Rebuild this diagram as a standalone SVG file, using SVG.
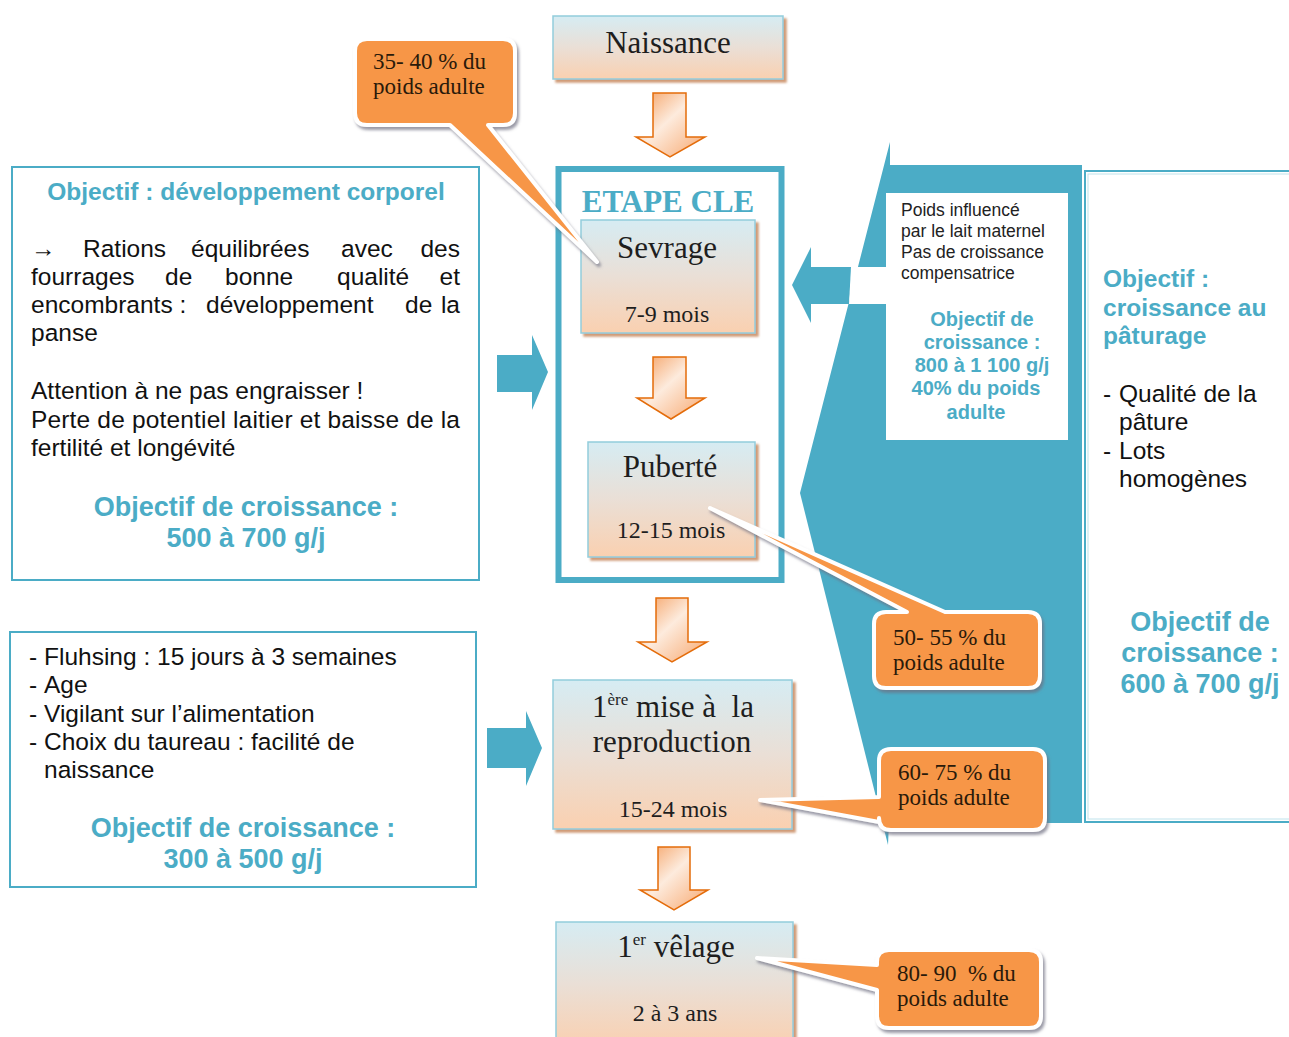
<svg xmlns="http://www.w3.org/2000/svg" width="1289" height="1037" viewBox="0 0 1289 1037">
<defs>
<linearGradient id="boxGrad" x1="0" y1="0" x2="0" y2="1">
<stop offset="0" stop-color="#D6ECF3"/>
<stop offset="0.5" stop-color="#EADFD6"/>
<stop offset="1" stop-color="#FAD0B0"/>
</linearGradient>
<linearGradient id="arrGrad" x1="0" y1="0" x2="1" y2="1">
<stop offset="0" stop-color="#F49A58"/>
<stop offset="0.45" stop-color="#FDEBDD"/>
<stop offset="1" stop-color="#F7A66C"/>
</linearGradient>
<filter id="boxShadow" x="-10%" y="-10%" width="130%" height="130%">
<feDropShadow dx="3" dy="3" stdDeviation="0.8" flood-color="#C88A5E" flood-opacity="0.85"/>
</filter>
<filter id="calloutShadow" x="-20%" y="-20%" width="140%" height="140%">
<feDropShadow dx="2" dy="3" stdDeviation="1.5" flood-color="#6E6E80" flood-opacity="0.7"/>
</filter>
<style>
.stage{fill:url(#boxGrad);stroke:#92CDDC;stroke-width:1.5;filter:url(#boxShadow)}
.ttl{font-family:"Liberation Serif",serif;font-size:31px;fill:#1e1e1e;text-anchor:middle}
.sub{font-family:"Liberation Serif",serif;font-size:24px;fill:#1e1e1e;text-anchor:middle}
.callout{fill:#F79646;stroke:#ffffff;stroke-width:4;stroke-linejoin:round;filter:url(#calloutShadow)}
.ct{font-family:"Liberation Serif",serif;font-size:23px;fill:#2a1a0a}
.obox{fill:#ffffff;stroke:#4BACC6;stroke-width:2}
.body{font-family:"Liberation Sans",Arial,sans-serif;font-size:24.5px;fill:#111}
.bt{font-family:"Liberation Sans",Arial,sans-serif;font-weight:bold;fill:#4BACC6}
.small{font-family:"Liberation Sans",Arial,sans-serif;font-size:17.5px;fill:#222}
.oarr{fill:url(#arrGrad);stroke:#E46C0A;stroke-width:1.5;stroke-linejoin:miter}
.barr{fill:#4BACC6}
</style>
</defs>
<rect width="1289" height="1037" fill="#ffffff"/>

<!-- Right blue callout shape -->
<g id="pasture-arrow">
<polygon fill="#4BACC6" points="890,142 890,165 1082,165 1082,823 889,823 888,845 800,493"/>
<path fill="#4BACC6" d="M853,267 H811 V247 L792,285 L811,323 V304 H849 Z"/>
<polygon fill="#ffffff" points="851,267 887,267 887,304 849,304"/>
</g>

<g id="pasture-info">
<rect x="886" y="193" width="182" height="247" fill="#ffffff"/>
<text class="small"><tspan x="901" y="216">Poids influencé</tspan><tspan x="901" y="237">par le lait maternel</tspan><tspan x="901" y="258">Pas de croissance</tspan><tspan x="901" y="279">compensatrice</tspan></text>
<text class="bt" font-size="20" text-anchor="middle"><tspan x="982" y="326">Objectif de</tspan><tspan x="982" y="349">croissance :</tspan><tspan x="982" y="372">800 à 1 100 g/j</tspan><tspan x="976" y="395">40% du poids</tspan><tspan x="976" y="419">adulte</tspan></text>
</g>

<g id="pasture-box">
<rect class="obox" x="1085" y="171" width="220" height="651"/>
<rect x="1088" y="174" width="214" height="645" fill="none" stroke="#BFE3EC" stroke-width="1"/>
<text class="bt" font-size="24.5"><tspan x="1103" y="287">Objectif :</tspan><tspan x="1103" y="316">croissance au</tspan><tspan x="1103" y="344">pâturage</tspan></text>
<text class="body"><tspan x="1103" y="402">-</tspan><tspan x="1119" y="402">Qualité de la</tspan><tspan x="1119" y="430">pâture</tspan><tspan x="1103" y="459">-</tspan><tspan x="1119" y="459">Lots</tspan><tspan x="1119" y="487">homogènes</tspan></text>
<text class="bt" font-size="27" text-anchor="middle"><tspan x="1200" y="631">Objectif de</tspan><tspan x="1200" y="662">croissance :</tspan><tspan x="1200" y="693">600 à 700 g/j</tspan></text>
</g>

<!-- Left boxes -->
<g id="objective-body">
<rect class="obox" x="12" y="167" width="467" height="413"/>
<text class="bt" font-size="24.5" x="246" y="200" text-anchor="middle">Objectif : développement corporel</text>
<g class="body">
<text x="31" y="257">→</text><text x="83" y="257">Rations</text><text x="191" y="257">équilibrées</text><text x="341" y="257">avec</text><text x="460" y="257" text-anchor="end">des</text>
<text x="31" y="285">fourrages</text><text x="165" y="285">de</text><text x="225" y="285">bonne</text><text x="337" y="285">qualité</text><text x="460" y="285" text-anchor="end">et</text>
<text x="31" y="313">encombrants :</text><text x="206" y="313">développement</text><text x="405" y="313">de</text><text x="460" y="313" text-anchor="end">la</text>
<text x="31" y="341">panse</text>
<text x="31" y="399">Attention à ne pas engraisser !</text>
<text x="31" y="428" textLength="429" lengthAdjust="spacing">Perte de potentiel laitier et baisse de la</text>
<text x="31" y="456">fertilité et longévité</text>
</g>
<text class="bt" font-size="27" text-anchor="middle"><tspan x="246" y="516">Objectif de croissance :</tspan><tspan x="246" y="547">500 à 700 g/j</tspan></text>
</g>

<g id="objective-repro">
<rect class="obox" x="10" y="632" width="466" height="255"/>
<text class="body"><tspan x="29" y="665">-</tspan><tspan x="44" y="665">Fluhsing : 15 jours à 3 semaines</tspan><tspan x="29" y="693">-</tspan><tspan x="44" y="693">Age</tspan><tspan x="29" y="722">-</tspan><tspan x="44" y="722">Vigilant sur l’alimentation</tspan><tspan x="29" y="750">-</tspan><tspan x="44" y="750">Choix du taureau : facilité de</tspan><tspan x="44" y="778">naissance</tspan></text>
<text class="bt" font-size="27" text-anchor="middle"><tspan x="243" y="837">Objectif de croissance :</tspan><tspan x="243" y="868">300 à 500 g/j</tspan></text>
</g>

<!-- Center column -->
<g id="naissance">
<rect class="stage" x="553" y="16" width="230" height="63"/>
<text class="ttl" x="668" y="53">Naissance</text>
</g>

<g id="etape-cle">
<rect x="558.5" y="169" width="223" height="411" fill="#ffffff" stroke="#4BACC6" stroke-width="6"/>
<text x="668" y="212" text-anchor="middle" font-family="Liberation Serif, serif" font-weight="bold" font-size="31" fill="#4BACC6">ETAPE CLE</text>
</g>

<g id="sevrage">
<rect class="stage" x="581" y="220" width="174" height="113"/>
<text class="ttl" x="667" y="258">Sevrage</text>
<text class="sub" x="667" y="322">7-9 mois</text>
</g>

<g id="puberte">
<rect class="stage" x="588" y="442" width="167" height="115"/>
<text class="ttl" x="670" y="477">Puberté</text>
<text class="sub" x="671" y="538">12-15 mois</text>
</g>

<g id="mise-reproduction">
<rect class="stage" x="553" y="680" width="239" height="149"/>
<text class="ttl" x="673" y="717" xml:space="preserve">1<tspan font-size="17" dy="-12">ère</tspan><tspan dy="12"> mise à  la</tspan></text>
<text class="ttl" x="672" y="752">reproduction</text>
<text class="sub" x="673" y="817">15-24 mois</text>
</g>

<g id="velage">
<rect class="stage" x="556" y="922" width="237" height="125"/>
<text class="ttl" x="676" y="957">1<tspan font-size="17" dy="-12">er</tspan><tspan dy="12"> vêlage</tspan></text>
<text class="sub" x="675" y="1021">2 à 3 ans</text>
</g>

<!-- Connectors -->
<g id="connectors">
<path class="oarr" d="M653,93 H686 V137 H705 L670,157 L636,137 H653 Z"/>
<path class="oarr" d="M653,357 H686 V398 H705 L671,419 L637,398 H653 Z"/>
<path class="oarr" d="M656,598 H688 V642 H707 L672,662 L638,642 H656 Z"/>
<path class="oarr" d="M658,847 H690 V890 H708 L674,910 L640,890 H658 Z"/>
<path class="barr" d="M497,355 H532 V335 L548,372 L532,410 V392 H497 Z"/>
<path class="barr" d="M487,728 H526 V711 L542,748 L526,786 V768 H487 Z"/>
</g>

<!-- Callouts -->
<g id="callout-sevrage">
<path class="callout" d="M367,39 H503 Q515,39 515,51 V113 Q515,125 503,125 H488 L597,262 L450,125 H367 Q355,125 355,113 V51 Q355,39 367,39 Z"/>
<text class="ct"><tspan x="373" y="69">35- 40 % du</tspan><tspan x="373" y="94">poids adulte</tspan></text>
</g>

<g id="callout-puberte">
<path class="callout" d="M886,612 H907 L710,508 L945,612 H1028 Q1040,612 1040,624 V676 Q1040,688 1028,688 H886 Q874,688 874,676 V624 Q874,612 886,612 Z"/>
<text class="ct"><tspan x="893" y="645">50- 55 % du</tspan><tspan x="893" y="670">poids adulte</tspan></text>
</g>

<g id="callout-reproduction">
<path class="callout" d="M891,749 H1033 Q1045,749 1045,761 V818 Q1045,830 1033,830 H891 Q879,830 879,818 V822 L760,800 L879,797 V761 Q879,749 891,749 Z"/>
<text class="ct"><tspan x="898" y="780">60- 75 % du</tspan><tspan x="898" y="805">poids adulte</tspan></text>
</g>

<g id="callout-velage">
<path class="callout" d="M889,950 H1029 Q1041,950 1041,962 V1016 Q1041,1028 1029,1028 H889 Q877,1028 877,1016 V990 L757,958 L877,965 V962 Q877,950 889,950 Z"/>
<text class="ct" xml:space="preserve"><tspan x="897" y="981">80- 90  % du</tspan><tspan x="897" y="1006">poids adulte</tspan></text>
</g>
</svg>
